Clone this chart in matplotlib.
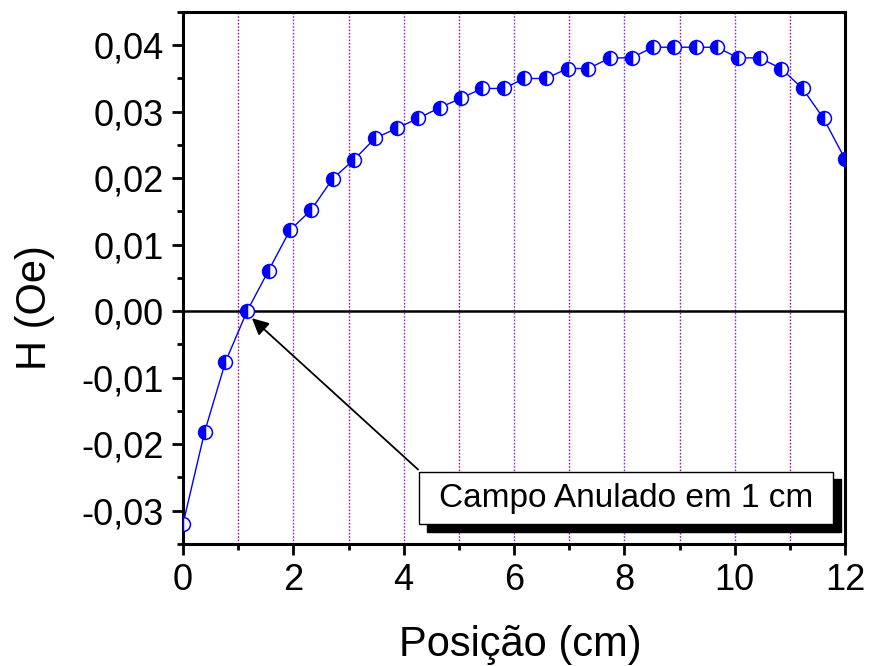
import matplotlib
matplotlib.use("Agg")
import matplotlib.pyplot as plt
from matplotlib.patches import Rectangle
from matplotlib.ticker import MultipleLocator, FuncFormatter

plt.rcParams['font.family'] = ['Liberation Sans', 'DejaVu Sans']

# Measured field along the probe path
posicao_cm = [0.00, 0.39, 0.77, 1.16, 1.55, 1.94, 2.32, 2.71, 3.10, 3.48,
              3.87, 4.26, 4.65, 5.03, 5.42, 5.81, 6.19, 6.58, 6.97, 7.35,
              7.74, 8.13, 8.52, 8.90, 9.29, 9.68, 10.06, 10.45, 10.84,
              11.23, 11.61, 12.00]
campo_oe = [-0.0320, -0.0182, -0.0076, 0.0000, 0.0061, 0.0122, 0.0152,
            0.0199, 0.0228, 0.0260, 0.0275, 0.0290, 0.0306, 0.0320,
            0.0335, 0.0335, 0.0350, 0.0350, 0.0365, 0.0365, 0.0381,
            0.0381, 0.0397, 0.0397, 0.0397, 0.0397, 0.0381, 0.0381,
            0.0365, 0.0335, 0.0290, 0.0229]
linhas_ref = [1, 2, 3, 4, 5, 6, 7, 8, 9, 10, 11]
nota = "Campo Anulado em 1 cm"

fig = plt.figure(figsize=(8.69, 6.66), dpi=100)
ax = fig.add_axes([0.2106, 0.1832, 0.7618, 0.7988])

ax.set_xlim(0, 12)
ax.set_ylim(-0.035, 0.045)

# vertical reference lines every centimetre
for xv in linhas_ref:
    col = '#9a1a9a' if xv % 2 else '#8a2be2'
    ax.axvline(xv, color=col, lw=1.0, ls=(0, (1.2, 1.2)), zorder=1)

ax.axhline(0, color='black', lw=1.8, zorder=2)

ax.plot(posicao_cm, campo_oe, color='blue', lw=1.0, marker='o',
        markersize=10, fillstyle='left', markerfacecolor='blue',
        markerfacecoloralt='white', markeredgecolor='blue',
        markeredgewidth=1.1, zorder=3)

# annotation box with drop shadow
ax.add_patch(Rectangle((4.43, -0.0332), 7.5, 0.00794, facecolor='black',
                       edgecolor='black', zorder=5, clip_on=False))
ax.add_patch(Rectangle((4.28, -0.03206), 7.5, 0.00794, facecolor='white',
                       edgecolor='black', lw=1.0, zorder=6, clip_on=False))
ax.text(8.03, -0.0281, nota, ha='center', va='center', fontsize=24,
        zorder=7)
ax.annotate('', xy=(1.25, -0.00105), xytext=(4.26, -0.0238),
            arrowprops=dict(arrowstyle='-|>', color='black', lw=1.3,
                            mutation_scale=25, shrinkA=0, shrinkB=0),
            zorder=4)

ax.xaxis.set_major_locator(MultipleLocator(2))
ax.xaxis.set_minor_locator(MultipleLocator(1))
ax.yaxis.set_major_locator(MultipleLocator(0.01))
ax.yaxis.set_minor_locator(MultipleLocator(0.005))
ax.yaxis.set_major_formatter(FuncFormatter(
    lambda v, p: f"{v:.2f}".replace('.', ',').replace('-0,00', '0,00')))
ax.xaxis.set_major_formatter(FuncFormatter(lambda v, p: f"{v:g}"))

ax.tick_params(which='major', direction='out', length=8, width=2,
               labelsize=26, pad=6, top=False, right=False)
ax.tick_params(which='minor', direction='out', length=4.3, width=2,
               top=False, right=False)
for s in ax.spines.values():
    s.set_linewidth(2.2)

ax.set_xlabel("Posição (cm)", fontsize=30)
ax.set_ylabel("H (Oe)", fontsize=30)
ax.xaxis.set_label_coords(0.51, -0.152)
ax.yaxis.set_label_coords(-0.193, 0.444)

fig.savefig("out.png", dpi=100)
